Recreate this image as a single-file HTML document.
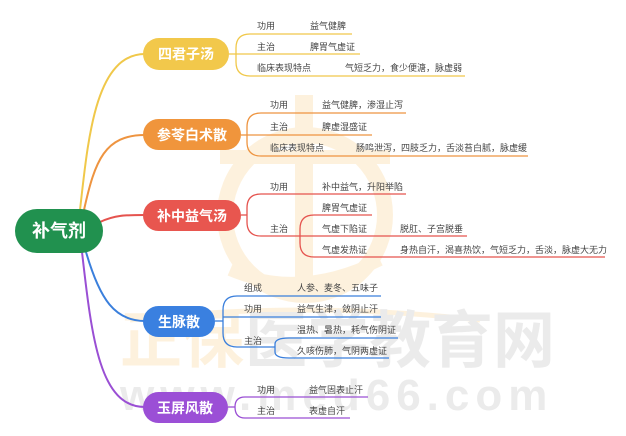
<!DOCTYPE html>
<html><head><meta charset="utf-8"><style>
html,body{margin:0;padding:0;background:#fff;}
svg{display:block;}
text{font-family:"Liberation Sans","Noto Sans CJK SC",sans-serif;}
.l{font-size:9px;fill:#444;}
.n{font-size:14px;font-weight:bold;fill:#fff;}
</style></head><body>
<svg width="626" height="436" viewBox="0 0 626 436" xmlns="http://www.w3.org/2000/svg">
<!-- watermark -->
<g opacity="0.35">
<circle cx="305" cy="215" r="80" fill="none" stroke="#fbd9a0" stroke-width="16"/>
<rect x="295" y="95" width="18" height="205" fill="#fbd9a0"/>
<rect x="220" y="150" width="170" height="14" fill="#fbd9a0"/>
<path d="M230 270 Q300 300 380 260" fill="none" stroke="#fbd9a0" stroke-width="12"/>
<path d="M130 320 Q300 300 480 320" fill="none" stroke="#fbd9a0" stroke-width="5"/>
<text x="120" y="362" font-size="62" font-weight="bold" fill="#fbd9a0">正保</text>
<text x="245" y="362" font-size="62" font-weight="bold" fill="#c8c8c8">医学教育网</text>
<text x="120" y="410" font-size="44" font-weight="bold" fill="#c8c8c8" letter-spacing="6">www.med66.com</text>
</g>
<!-- root connectors -->
<g fill="none" stroke-width="2">
<path d="M80 210 C 88 140, 95 54, 145 54" stroke="#f0c84a"/>
<path d="M84 210 C 95 160, 105 135, 145 135" stroke="#ee9440"/>
<path d="M100 222 C 115 215, 125 215, 145 215" stroke="#e5534e"/>
<path d="M86 252 C 100 300, 115 321, 145 321" stroke="#3a7fdc"/>
<path d="M82 252 C 92 340, 100 407, 145 407" stroke="#9a4fd4"/>
</g>
<!-- nodes -->
<rect x="15" y="209" width="88" height="44" rx="22" fill="#21914f"/>
<text x="59" y="237" text-anchor="middle" font-size="18" font-weight="bold" fill="#fff">补气剂</text>
<rect x="143" y="38" width="86" height="32" rx="16" fill="#f2c84b"/>
<text class="n" x="186" y="59" text-anchor="middle">四君子汤</text>
<rect x="143" y="119" width="98" height="31" rx="15.5" fill="#f0953c"/>
<text class="n" x="192" y="140" text-anchor="middle">参苓白术散</text>
<rect x="143" y="200" width="98" height="31" rx="15.5" fill="#e8564f"/>
<text class="n" x="192" y="221" text-anchor="middle">补中益气汤</text>
<rect x="143" y="306" width="72" height="31" rx="15.5" fill="#3a80e0"/>
<text class="n" x="179" y="327" text-anchor="middle">生脉散</text>
<rect x="143" y="392" width="85" height="31" rx="15.5" fill="#9b4fd6"/>
<text class="n" x="185" y="413" text-anchor="middle">玉屏风散</text>
<!-- 四君子汤 -->
<g fill="none" stroke="#f0c84a" stroke-width="1.3">
<path d="M229 54 H236"/>
<path d="M352 34 H250 Q236 34 236 48 V62 Q236 76 250 76 H465"/>
<path d="M236 54 H360"/>
</g>
<text class="l" x="257" y="29">功用</text><text class="l" x="310" y="29">益气健脾</text>
<text class="l" x="257" y="50">主治</text><text class="l" x="310" y="50">脾胃气虚证</text>
<text class="l" x="257" y="71">临床表现特点</text><text class="l" x="345" y="71">气短乏力，食少便溏，脉虚弱</text>
<!-- 参苓白术散 -->
<g fill="none" stroke="#ee9440" stroke-width="1.3">
<path d="M241 135 H247"/>
<path d="M406 113 H261 Q247 113 247 127 V142 Q247 156 261 156 H528"/>
<path d="M247 135 H372"/>
</g>
<text class="l" x="270" y="108">功用</text><text class="l" x="322" y="108">益气健脾，渗湿止泻</text>
<text class="l" x="270" y="130">主治</text><text class="l" x="322" y="130">脾虚湿盛证</text>
<text class="l" x="270" y="151">临床表现特点</text><text class="l" x="356" y="151">肠鸣泄泻，四肢乏力，舌淡苔白腻，脉虚缓</text>
<!-- 补中益气汤 -->
<g fill="none" stroke="#e5534e" stroke-width="1.3">
<path d="M241 215 H247"/>
<path d="M406 194 H261 Q247 194 247 208 V222 Q247 236 261 236 H300"/>
<path d="M372 215 H314 Q300 215 300 229 V243 Q300 257 314 257 H605"/>
<path d="M300 236 H467"/>
</g>
<text class="l" x="270" y="190">功用</text><text class="l" x="322" y="190">补中益气，升阳举陷</text>
<text class="l" x="270" y="232">主治</text>
<text class="l" x="322" y="211">脾胃气虚证</text>
<text class="l" x="322" y="232">气虚下陷证</text><text class="l" x="400" y="232">脱肛、子宫脱垂</text>
<text class="l" x="322" y="253">气虚发热证</text><text class="l" x="400" y="253">身热自汗，渴喜热饮，气短乏力，舌淡，脉虚大无力</text>
<!-- 生脉散 -->
<g fill="none" stroke="#3a7fdc" stroke-width="1.3">
<path d="M215 321 H223"/>
<path d="M381 296 H237 Q223 296 223 310 V333 Q223 347 237 347 H275"/>
<path d="M223 317 H381"/>
<path d="M398 338 H289 Q275 338 275 344 V352 Q275 358 289 358 H389"/>
</g>
<text class="l" x="244" y="291">组成</text><text class="l" x="297" y="291">人参、麦冬、五味子</text>
<text class="l" x="244" y="312">功用</text><text class="l" x="297" y="312">益气生津，敛阴止汗</text>
<text class="l" x="244" y="344">主治</text>
<text class="l" x="297" y="333">温热、暑热，耗气伤阴证</text>
<text class="l" x="297" y="354">久咳伤肺，气阴两虚证</text>
<!-- 玉屏风散 -->
<g fill="none" stroke="#9a4fd4" stroke-width="1.3">
<path d="M228 407 H235"/>
<path d="M368 397 H245 Q235 397 235 407 Q235 418 245 418 H350"/>
</g>
<text class="l" x="257" y="393">功用</text><text class="l" x="309" y="393">益气固表止汗</text>
<text class="l" x="257" y="414">主治</text><text class="l" x="309" y="414">表虚自汗</text>
</svg>
</body></html>
